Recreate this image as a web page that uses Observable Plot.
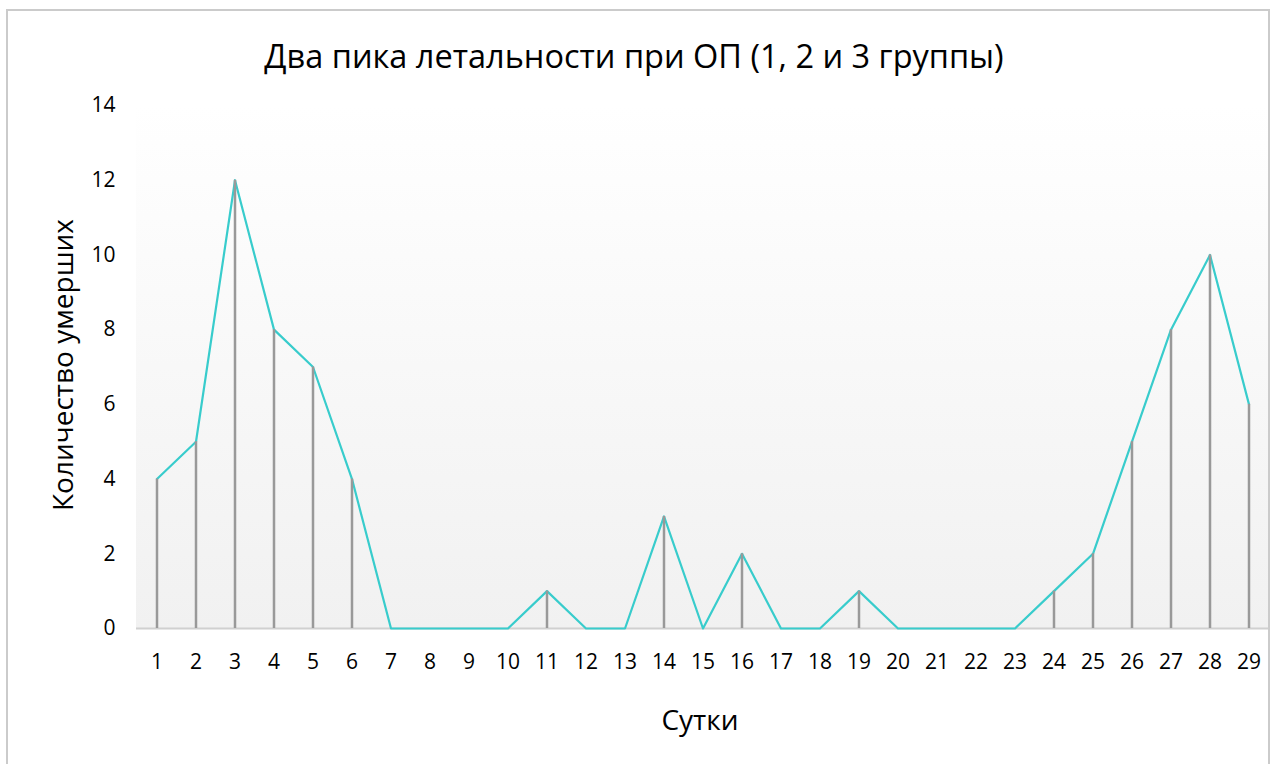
<!DOCTYPE html>
<html>
<head>
<meta charset="utf-8">
<script src="https://cdn.jsdelivr.net/npm/d3@7"></script>
<script src="https://cdn.jsdelivr.net/npm/@observablehq/plot@0.6"></script>
<style>
  body { margin: 0; background: #fff; }
  #chart { position: relative; width: 1272px; height: 764px; overflow: hidden; font-family: "Open Sans", sans-serif; color: #000; }
  #chart svg { position: absolute; left: 0; top: 0; }
  #frame { position: absolute; left: 6px; top: 9px; width: 1264px; height: 820px; border: 2px solid #cbcbcb; box-sizing: border-box; }
  .lbl { position: absolute; white-space: nowrap; transform: translate(-50%, -50%); line-height: 1; }
  #title { left: 634px; top: 56px; font-size: 32.5px; }
  #ylabel { left: 62px; top: 365px; font-size: 28px; transform: translate(-50%, -50%) rotate(-90deg); }
  #xlabel { left: 700px; top: 719px; font-size: 28px; }
</style>
</head>
<body>
<div id="chart">
  <div id="frame"></div>
  <div class="lbl" id="title">Два пика летальности при ОП (1, 2 и 3 группы)</div>
  <div class="lbl" id="ylabel">Количество умерших</div>
  <div class="lbl" id="xlabel">Сутки</div>
</div>
<script>
// Days of observation and number of deaths per day
const days = [1, 2, 3, 4, 5, 6, 7, 8, 9, 10, 11, 12, 13, 14, 15, 16, 17, 18, 19, 20, 21, 22, 23, 24, 25, 26, 27, 28, 29];
const deaths = [4, 5, 12, 8, 7, 4, 0, 0, 0, 0, 1, 0, 0, 3, 0, 2, 0, 0, 1, 0, 0, 0, 0, 1, 2, 5, 8, 10, 6];
const yTicks = [0, 2, 4, 6, 8, 10, 12, 14];

const rows = days.map((d, i) => ({day: d, deaths: deaths[i]}));

// Plot-area background: soft vertical fade from white to light grey
function plotBackground(index, scales, values, dims) {
  const g = d3.create("svg:g");
  const grad = g.append("defs").append("linearGradient")
    .attr("id", "plotFade").attr("x1", 0).attr("y1", 0).attr("x2", 0).attr("y2", 1);
  grad.append("stop").attr("offset", "0%").attr("stop-color", "#ffffff");
  grad.append("stop").attr("offset", "100%").attr("stop-color", "#f1f1f1");
  g.append("rect")
    .attr("x", dims.marginLeft)
    .attr("y", dims.marginTop)
    .attr("width", dims.width - dims.marginLeft - dims.marginRight)
    .attr("height", dims.height - dims.marginTop - dims.marginBottom)
    .attr("fill", "url(#plotFade)");
  return g.node();
}

const chart = Plot.plot({
  width: 1272,
  height: 764,
  marginLeft: 136,
  marginRight: 3,
  marginTop: 105,
  marginBottom: 136,
  style: {fontFamily: "'Open Sans', sans-serif", fontSize: "21px", color: "#000", background: "transparent"},
  x: {type: "band", domain: days, padding: 0},
  y: {domain: [0, 14]},
  marks: [
    plotBackground,
    Plot.axisX({tickSize: 0, tickPadding: 26, label: null, fontSize: 21}),
    Plot.axisY({ticks: yTicks, tickSize: 0, tickPadding: 21, label: null, fontSize: 21}),
    Plot.ruleY([0], {stroke: "#d0d0d0", strokeWidth: 2}),
    Plot.line(rows, {x: "day", y: "deaths", stroke: "#38cccc", strokeWidth: 2.2}),
    Plot.ruleX(rows, {x: "day", y1: 0, y2: "deaths", stroke: "#999999", strokeWidth: 2.5})
  ]
});

document.getElementById("chart").prepend(chart);
</script>
</body>
</html>
